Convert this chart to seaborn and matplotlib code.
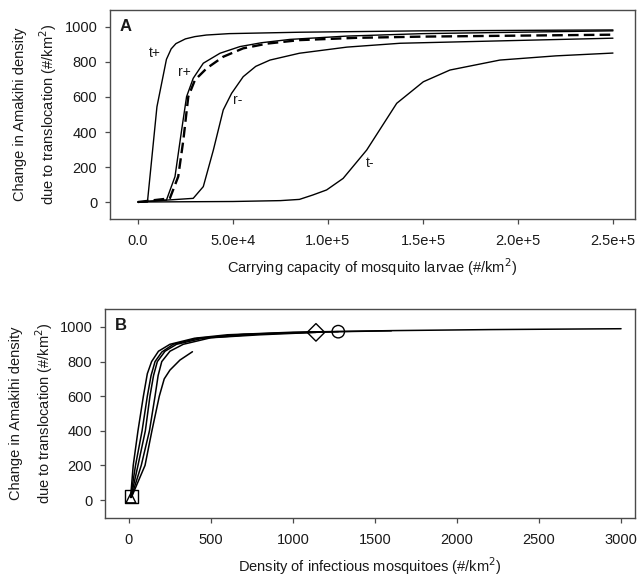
import matplotlib
matplotlib.use('Agg')
import matplotlib.pyplot as plt
import numpy as np
import pandas as pd
import seaborn as sns

sns.set_style('ticks')
plt.rcParams['font.family'] = ['Liberation Sans', 'DejaVu Sans']

# Panel A: change in density vs carrying capacity of larvae
A_TPLUS_X = [0, 5000, 10000, 15000, 17500, 20000, 25000, 30000, 36000, 48000, 85000, 150000, 250000]
A_TPLUS_Y = [0, 0, 544, 815, 875, 905, 932, 945, 954, 962, 970, 978, 983]
A_RPLUS_X = [0, 15000, 19500, 23000, 25600, 29100, 34400, 43200, 53700, 65000, 80000, 110000, 150000, 250000]
A_RPLUS_Y = [0, 11, 145, 411, 602, 707, 793, 850, 888, 910, 929, 948, 962, 978]
A_BASE_X = [0, 16800, 21200, 23900, 26500, 30000, 36200, 44900, 55400, 68000, 85000, 115000, 150000, 250000]
A_BASE_Y = [0, 21, 145, 354, 602, 697, 764, 830, 878, 905, 925, 938, 945, 956]
A_RMINUS_X = [0, 29100, 34400, 39700, 44900, 49300, 55400, 62000, 69500, 85000, 110000, 138000, 250000]
A_RMINUS_Y = [0, 21, 88, 297, 526, 621, 716, 775, 811, 850, 885, 907, 936]
A_TMINUS_X = [0, 50000, 75000, 85000, 92000, 99300, 108000, 120400, 136200, 150200, 164200, 190500, 220000, 250000]
A_TMINUS_Y = [0, 3, 8, 15, 40, 69, 135, 297, 564, 687, 754, 811, 835, 851]

# Panel B: change in density vs density of infectious mosquitoes
B_C1_X = [10, 26, 55, 88, 112, 138, 180, 250, 400, 600, 1000, 1600, 2200, 3000]
B_C1_Y = [15, 200, 400, 600, 730, 800, 860, 900, 935, 955, 970, 979, 985, 990]
B_C2_X = [10, 40, 80, 112, 135, 159, 200, 270, 420, 700, 1100, 1600]
B_C2_Y = [15, 200, 400, 600, 720, 800, 855, 900, 935, 958, 970, 978]
B_C3_X = [12, 55, 100, 128, 150, 173, 220, 290, 450, 800, 1276]
B_C3_Y = [15, 200, 400, 600, 720, 800, 860, 900, 935, 960, 973]
B_C4_X = [14, 75, 125, 159, 178, 200, 250, 331, 500, 800, 1140]
B_C4_Y = [15, 200, 400, 600, 720, 800, 860, 900, 938, 955, 969]
B_C5_X = [15, 98, 140, 185, 215, 250, 311, 387]
B_C5_Y = [15, 200, 400, 600, 700, 751, 809, 857]

B_MARK_X = [15, 12, 1140, 1276]
B_MARK_Y = [20, 12, 969, 973]
B_MARK_SHAPE = ['s', '^', 'D', 'o']


def long_frame(curves):
    rows = []
    for name, xs, ys in curves:
        for i, (x, y) in enumerate(zip(xs, ys)):
            rows.append({'curve': name, 'order': i, 'x': x, 'y': y})
    return pd.DataFrame(rows)


df_a = long_frame([
    ('t+', A_TPLUS_X, A_TPLUS_Y),
    ('r+', A_RPLUS_X, A_RPLUS_Y),
    ('base', A_BASE_X, A_BASE_Y),
    ('r-', A_RMINUS_X, A_RMINUS_Y),
    ('t-', A_TMINUS_X, A_TMINUS_Y),
])
df_b = long_frame([
    ('c1', B_C1_X, B_C1_Y),
    ('c2', B_C2_X, B_C2_Y),
    ('c3', B_C3_X, B_C3_Y),
    ('c4', B_C4_X, B_C4_Y),
    ('c5', B_C5_X, B_C5_Y),
])

INK = '#1a1a1a'
BOX = '#4a4a4a'
YLABEL = 'Change in Amakihi density\ndue to translocation (#/km$^2$)'

fig = plt.figure(figsize=(6.37, 5.79), dpi=100)
ax_a = fig.add_axes([110 / 637, 1 - 219 / 579, 525 / 637, 209 / 579])
ax_b = fig.add_axes([105 / 637, 1 - 518 / 579, 530 / 637, 209 / 579])

names_a = df_a['curve'].unique()
sns.lineplot(data=df_a, x='x', y='y', hue='curve', style='curve', units='curve',
             palette={n: 'black' for n in names_a},
             dashes={n: ((4.5, 2.2) if n == 'base' else '') for n in names_a},
             sort=False, estimator=None, legend=False, ax=ax_a)
for line in ax_a.get_lines():
    line.set_linewidth(1.0)
ax_a.get_lines()[2].set_linewidth(1.7)

names_b = df_b['curve'].unique()
sns.lineplot(data=df_b, x='x', y='y', hue='curve', units='curve',
             palette={n: 'black' for n in names_b},
             sort=False, estimator=None, legend=False, lw=1.1, ax=ax_b)
for mx, my, shape in zip(B_MARK_X, B_MARK_Y, B_MARK_SHAPE):
    ax_b.scatter([mx], [my], marker=shape, s=80 if shape != '^' else 50,
                 facecolors='none', edgecolors='black', linewidths=1.0, zorder=5)

for txt, x, y in [('t+', 8950, 851), ('r+', 24700, 743), ('r-', 52600, 583), ('t-', 122100, 223)]:
    ax_a.text(x, y, txt, ha='center', va='center', fontsize=10, color=INK)

ax_a.set_xlim(-14700, 261600)
ax_a.set_ylim(-97, 1097)
ax_a.set_xticks([0, 50000, 100000, 150000, 200000, 250000])
ax_a.set_xticklabels(['0.0', '5.0e+4', '1.0e+5', '1.5e+5', '2.0e+5', '2.5e+5'])
ax_a.set_xlabel('Carrying capacity of mosquito larvae (#/km$^2$)', fontsize=10.5, color=INK, labelpad=6)
ax_a.text(0.018, 0.92, 'A', transform=ax_a.transAxes, fontsize=12, fontweight='bold',
          ha='left', va='center', color=INK)

ax_b.set_xlim(-146, 3085)
ax_b.set_ylim(-104, 1104)
ax_b.set_xticks([0, 500, 1000, 1500, 2000, 2500, 3000])
ax_b.set_xlabel('Density of infectious mosquitoes (#/km$^2$)', fontsize=10.5, color=INK, labelpad=6)
ax_b.text(0.018, 0.92, 'B', transform=ax_b.transAxes, fontsize=12, fontweight='bold',
          ha='left', va='center', color=INK)

for ax, lx in [(ax_a, -0.098), (ax_b, -0.095)]:
    ax.set_yticks([0, 200, 400, 600, 800, 1000])
    ax.set_ylabel(YLABEL, fontsize=10.5, color=INK, linespacing=1.6)
    ax.yaxis.set_label_coords(lx, 0.5)
    for s in ax.spines.values():
        s.set_visible(True)
        s.set_color(BOX)
        s.set_linewidth(1.0)
    ax.tick_params(axis='both', direction='out', length=3.6, width=0.9,
                   color=BOX, labelcolor=INK, labelsize=10.5)
    ax.tick_params(axis='x', pad=7.5)
    ax.tick_params(axis='y', pad=5.5)

fig.savefig('out.png', dpi=100, facecolor='white')
